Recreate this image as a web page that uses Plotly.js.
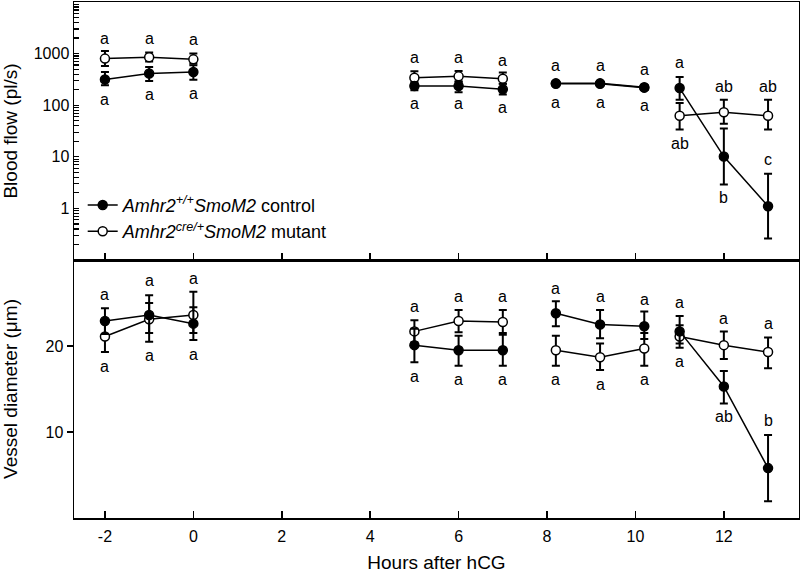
<!DOCTYPE html>
<html>
<head>
<meta charset="utf-8">
<script src="https://cdn.plot.ly/plotly-3.0.1.min.js"></script>
<style>html,body{margin:0;padding:0;background:#fff;}#chart{width:800px;height:577px;}</style>
</head>
<body>
<div id="chart"></div>
<script>
// ---- Data ----
const hours = [-2, -1, 0, 5, 6, 7, 8.2, 9.2, 10.2, 11, 12, 13];
const group = [0, 0, 0, 1, 1, 1, 2, 2, 2, 3, 3, 3];

// Blood flow (pl/s)
const flowCtrl      = [316, 410, 440, 235, 235, 203, 261, 261, 219, 215, 10.1, 1.1];
const flowCtrlHi    = [440, 550, 593, 282, 290, 261, 285, 285, 240, 351, 35.5, 4.7];
const flowCtrlLo    = [243, 294, 312, 194, 179, 162, 240, 240, 200, 128, 2.9, 0.26];
const flowMut       = [800, 847, 774, 342, 362, 327, 265, 265, 222, 62.5, 73, 62.5];
const flowMutHi     = [1125, 1045, 1000, 453, 459, 428, 290, 290, 245, 110, 128, 128];
const flowMutLo     = [575, 700, 640, 261, 282, 261, 240, 240, 200, 34, 43.6, 34];

// Vessel diameter (um)
const diamCtrl      = [22.9, 23.6, 22.6, 20.1, 19.5, 19.5, 23.8, 22.5, 22.3, 21.7, 15.3, 5.8];
const diamCtrlHi    = [24.4, 25.9, 24.5, 22.0, 21.2, 21.3, 25.2, 24.2, 24.0, 23.5, 17.1, 9.65];
const diamCtrlLo    = [21.4, 21.5, 20.7, 18.1, 17.7, 17.7, 22.3, 20.9, 20.8, 20.3, 13.3, 1.94];
const diamMut       = [21.1, 23.1, 23.6, 21.7, 22.9, 22.8, 19.5, 18.7, 19.7, 21.1, 20.1, 19.3];
const diamMutHi     = [22.9, 25.0, 26.3, 23.0, 24.2, 24.2, 21.2, 20.3, 21.5, 22.4, 21.7, 21.0];
const diamMutLo     = [19.3, 20.5, 21.5, 20.4, 21.6, 21.5, 17.7, 17.2, 17.7, 19.8, 18.5, 17.4];

// Significance letters
const flowLabelX    = [-2, -2, -1, -1, 0, 0, 5, 5, 6, 6, 7, 7, 8.2, 8.2, 9.2, 9.2, 10.2, 10.2, 11, 11, 12, 12, 13, 13];
const flowLabelY    = [2000, 130, 2000, 162, 1900, 170, 835, 107, 835, 107, 740, 90, 593, 115, 593, 115, 495, 99, 687, 18.1, 232, 1.64, 232, 8.75];
const flowLabelText = ['a','a','a','a','a','a','a','a','a','a','a','a','a','a','a','a','a','a','a','ab','ab','b','ab','c'];

const diamLabelX    = [-2, -2, -1, -1, 0, 0, 5, 5, 6, 6, 7, 7, 8.2, 8.2, 9.2, 9.2, 10.2, 10.2, 11, 11, 12, 12, 13, 13];
const diamLabelY    = [26.0, 17.67, 27.56, 18.92, 27.87, 19.03, 24.65, 16.4, 25.7, 16.05, 25.7, 16.05, 26.67, 16.05, 25.7, 15.55, 25.43, 16.05, 25.1, 18.19, 23.19, 11.86, 22.64, 11.28];
const diamLabelText = ['a','a','a','a','a','a','a','a','a','a','a','a','a','a','a','a','a','a','a','a','a','ab','a','b'];

// Axis tick labels
const xTicks      = [-2, 0, 2, 4, 6, 8, 10, 12];
const flowTicks   = [1, 10, 100, 1000];
const diamTicks   = [10, 20];

const ctrlName = '<i>Amhr2<sup>+/+</sup>SmoM2</i> control';
const mutName  = '<i>Amhr2<sup>cre/+</sup>SmoM2</i> mutant';

// ---- Build traces ----
const FONT = 'Liberation Sans, Arial, Helvetica, sans-serif';
const groups = [...new Set(group)];

function seriesTraces(mean, hi, lo, xa, ya, filled, name, showLegend, rank) {
  const out = [];
  groups.forEach((g, gi) => {
    const idx = group.map((v, i) => v === g ? i : -1).filter(i => i >= 0);
    out.push({
      type: 'scatter', mode: 'lines+markers',
      x: idx.map(i => hours[i]),
      y: idx.map(i => mean[i]),
      error_y: {
        type: 'data', symmetric: false,
        array: idx.map(i => hi[i] - mean[i]),
        arrayminus: idx.map(i => mean[i] - lo[i]),
        color: '#000', thickness: 2, width: 4
      },
      xaxis: xa, yaxis: ya,
      name: name, legendgroup: name, legendrank: rank,
      showlegend: showLegend && gi === 0,
      line: {color: '#000', width: 1.5},
      marker: {symbol: 'circle', size: 9, color: filled ? '#000' : '#fff', line: {color: '#000', width: 1.5}},
      hoverinfo: 'x+y'
    });
  });
  return out;
}

const traces = [].concat(
  seriesTraces(flowMut, flowMutHi, flowMutLo, 'x2', 'y2', false, mutName, true, 2),
  seriesTraces(flowCtrl, flowCtrlHi, flowCtrlLo, 'x2', 'y2', true, ctrlName, true, 1),
  seriesTraces(diamMut, diamMutHi, diamMutLo, 'x', 'y', false, mutName, false, 2),
  seriesTraces(diamCtrl, diamCtrlHi, diamCtrlLo, 'x', 'y', true, ctrlName, false, 1)
);

const annotations = [];
flowLabelText.forEach((t, i) => annotations.push({
  x: flowLabelX[i], y: Math.log10(flowLabelY[i]), xref: 'x2', yref: 'y2',
  text: t, showarrow: false, font: {family: FONT, size: 16, color: '#000'}
}));
diamLabelText.forEach((t, i) => annotations.push({
  x: diamLabelX[i], y: diamLabelY[i], xref: 'x', yref: 'y',
  text: t, showarrow: false, font: {family: FONT, size: 16, color: '#000'}
}));

// log axis: labelled decades plus unlabelled 2..9 ticks in each decade
const flowTickVals = [], flowTickText = [];
[0.1, 1, 10, 100, 1000].forEach(d => {
  for (let k = 1; k <= 9; k++) {
    const v = d * k;
    flowTickVals.push(v);
    flowTickText.push(k === 1 && flowTicks.includes(v) ? String(v) : '');
  }
});

const axisCommon = {
  showline: true, linecolor: '#000', linewidth: 1.5, mirror: true,
  showgrid: false, zeroline: false,
  tickcolor: '#000', tickwidth: 1.5,
  tickfont: {family: FONT, size: 16, color: '#000'}
};

const layout = {
  width: 800, height: 577,
  margin: {l: 74, r: 1, t: 2, b: 59},
  paper_bgcolor: '#fff', plot_bgcolor: '#fff',
  font: {family: FONT, color: '#000'},
  showlegend: true,
  legend: {
    x: 0.012, y: 0.642, xanchor: 'left', yanchor: 'top',
    bgcolor: 'rgba(0,0,0,0)', font: {family: FONT, size: 18, color: '#000'},
    tracegroupgap: 0, traceorder: 'normal'
  },
  xaxis: Object.assign({}, axisCommon, {
    domain: [0, 1], anchor: 'y', range: [-2.7, 13.7],
    tickmode: 'array', tickvals: xTicks, ticktext: xTicks.map(String),
    ticks: 'inside', ticklen: 7, ticklabelstandoff: 3,
    title: {text: 'Hours after hCG', font: {family: FONT, size: 19, color: '#000'}, standoff: 12}
  }),
  yaxis: Object.assign({}, axisCommon, {
    domain: [0, 0.5], anchor: 'x', range: [0, 30],
    tickmode: 'array', tickvals: diamTicks, ticktext: diamTicks.map(String),
    ticks: 'outside', ticklen: 6,
    title: {text: 'Vessel diameter (μm)', font: {family: FONT, size: 19, color: '#000'}, standoff: 28}
  }),
  xaxis2: Object.assign({}, axisCommon, {
    domain: [0, 1], anchor: 'y2', range: [-2.7, 13.7], matches: 'x',
    tickmode: 'array', tickvals: xTicks, showticklabels: false,
    ticks: 'inside', ticklen: 7
  }),
  yaxis2: Object.assign({}, axisCommon, {
    domain: [0.5, 1], anchor: 'x2', type: 'log', range: [-1, 4],
    tickmode: 'array', tickvals: flowTickVals, ticktext: flowTickText,
    ticks: 'inside', ticklen: 5, tickwidth: 1.2,
    title: {text: 'Blood flow (pl/s)', font: {family: FONT, size: 19, color: '#000'}, standoff: 12}
  }),
  annotations: annotations
};

Plotly.newPlot('chart', traces, layout, {displayModeBar: false, staticPlot: true});
</script>
</body>
</html>
